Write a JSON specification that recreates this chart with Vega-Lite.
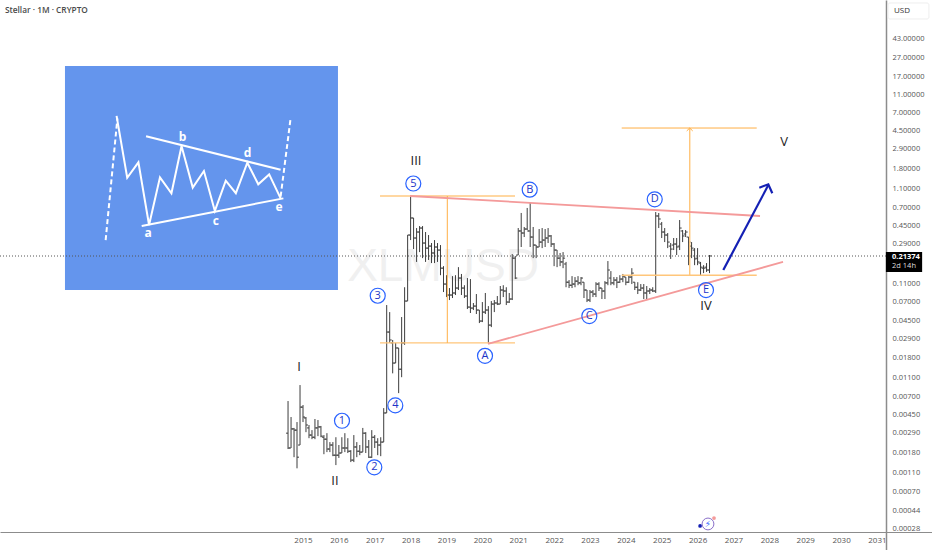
{
  "$schema": "https://vega.github.io/schema/vega-lite/v6.json",
  "width": 932,
  "height": 550,
  "padding": 0,
  "autosize": {"type": "none"},
  "background": "#ffffff",
  "config": {"view": {"stroke": null}, "text": {"font": "Open Sans"}},
  "datasets": {
    "panel": [{"x0": 0, "x1": 100, "y0": 0, "y1": 100}],
    "sketch": [
      {"line": "wave", "n": 1, "x": 18.9, "y": 77.7},
      {"line": "wave", "n": 2, "x": 22.8, "y": 50.1},
      {"line": "wave", "n": 3, "x": 26.9, "y": 57.0},
      {"line": "wave", "n": 4, "x": 30.8, "y": 29.0},
      {"line": "wave", "n": 5, "x": 34.8, "y": 50.3},
      {"line": "wave", "n": 6, "x": 39.0, "y": 43.2},
      {"line": "wave", "n": 7, "x": 42.7, "y": 64.3},
      {"line": "wave", "n": 8, "x": 46.8, "y": 45.7},
      {"line": "wave", "n": 9, "x": 50.9, "y": 53.1},
      {"line": "wave", "n": 10, "x": 54.9, "y": 35.3},
      {"line": "wave", "n": 11, "x": 58.9, "y": 48.8},
      {"line": "wave", "n": 12, "x": 62.6, "y": 43.2},
      {"line": "wave", "n": 13, "x": 66.8, "y": 56.8},
      {"line": "wave", "n": 14, "x": 70.8, "y": 47.2},
      {"line": "wave", "n": 15, "x": 74.8, "y": 51.6},
      {"line": "wave", "n": 16, "x": 79.0, "y": 40.9},
      {"line": "upper", "n": 1, "x": 29.7, "y": 68.6},
      {"line": "upper", "n": 2, "x": 79.0, "y": 53.7},
      {"line": "lower", "n": 1, "x": 28.1, "y": 28.6},
      {"line": "lower", "n": 2, "x": 80.0, "y": 40.9}
    ],
    "sketchDash": [
      {"line": "in", "n": 1, "x": 14.9, "y": 22.3},
      {"line": "in", "n": 2, "x": 19.2, "y": 76.6},
      {"line": "out", "n": 1, "x": 79.0, "y": 41.7},
      {"line": "out", "n": 2, "x": 82.7, "y": 77.1}
    ],
    "sketchText": [
      {"text": "a", "x": 30.5, "y": 25.3},
      {"text": "b", "x": 43.1, "y": 68.5},
      {"text": "c", "x": 55.3, "y": 31.0},
      {"text": "d", "x": 66.9, "y": 61.0},
      {"text": "e", "x": 78.4, "y": 37.2}
    ],
    "bars": [
      {"t":2014.583,"o":0.00287,"h":0.00627,"l":0.00195,"c":0.002},
      {"t":2014.667,"o":0.002,"h":0.00425,"l":0.002,"c":0.00318},
      {"t":2014.75,"o":0.00318,"h":0.00326,"l":0.0016,"c":0.00309},
      {"t":2014.833,"o":0.00309,"h":0.00376,"l":0.00122,"c":0.0016},
      {"t":2014.917,"o":0.00215,"h":0.00925,"l":0.00215,"c":0.00541},
      {"t":2015.0,"o":0.00541,"h":0.00569,"l":0.00376,"c":0.00425},
      {"t":2015.083,"o":0.00415,"h":0.00425,"l":0.00294,"c":0.0035},
      {"t":2015.167,"o":0.00326,"h":0.0035,"l":0.00254,"c":0.00274},
      {"t":2015.25,"o":0.00274,"h":0.00309,"l":0.00248,"c":0.0026},
      {"t":2015.333,"o":0.0026,"h":0.00405,"l":0.00248,"c":0.00326},
      {"t":2015.417,"o":0.00326,"h":0.00395,"l":0.00267,"c":0.00334},
      {"t":2015.5,"o":0.00334,"h":0.00342,"l":0.0026,"c":0.00267},
      {"t":2015.583,"o":0.0026,"h":0.00274,"l":0.00172,"c":0.00248},
      {"t":2015.667,"o":0.00248,"h":0.00287,"l":0.00181,"c":0.00195},
      {"t":2015.75,"o":0.00195,"h":0.00231,"l":0.00181,"c":0.00215},
      {"t":2015.833,"o":0.00215,"h":0.00231,"l":0.00164,"c":0.00168},
      {"t":2015.917,"o":0.00168,"h":0.0026,"l":0.00132,"c":0.00168},
      {"t":2016.0,"o":0.00168,"h":0.00215,"l":0.00157,"c":0.00177},
      {"t":2016.083,"o":0.00177,"h":0.0026,"l":0.00177,"c":0.002},
      {"t":2016.167,"o":0.002,"h":0.00287,"l":0.00181,"c":0.002},
      {"t":2016.25,"o":0.002,"h":0.00254,"l":0.00177,"c":0.00185},
      {"t":2016.333,"o":0.00185,"h":0.0019,"l":0.00142,"c":0.00149},
      {"t":2016.417,"o":0.00149,"h":0.00274,"l":0.00142,"c":0.00205},
      {"t":2016.5,"o":0.00205,"h":0.00231,"l":0.0016,"c":0.00185},
      {"t":2016.583,"o":0.00185,"h":0.00215,"l":0.00168,"c":0.00181},
      {"t":2016.667,"o":0.00181,"h":0.00326,"l":0.00181,"c":0.00287},
      {"t":2016.75,"o":0.00287,"h":0.00294,"l":0.00177,"c":0.00205},
      {"t":2016.833,"o":0.00205,"h":0.00243,"l":0.00157,"c":0.0016},
      {"t":2016.917,"o":0.0016,"h":0.00309,"l":0.00157,"c":0.0026},
      {"t":2017.0,"o":0.0026,"h":0.00274,"l":0.002,"c":0.00231},
      {"t":2017.083,"o":0.00231,"h":0.00254,"l":0.00168,"c":0.00215},
      {"t":2017.167,"o":0.00215,"h":0.0026,"l":0.00164,"c":0.00231},
      {"t":2017.25,"o":0.00231,"h":0.00528,"l":0.00231,"c":0.00469},
      {"t":2017.333,"o":0.00469,"h":0.0648,"l":0.00469,"c":0.0336},
      {"t":2017.417,"o":0.0336,"h":0.0546,"l":0.0258,"c":0.0277},
      {"t":2017.5,"o":0.0258,"h":0.0277,"l":0.0123,"c":0.0158},
      {"t":2017.583,"o":0.0158,"h":0.0258,"l":0.0158,"c":0.0228},
      {"t":2017.667,"o":0.0228,"h":0.0228,"l":0.0076,"c":0.0136},
      {"t":2017.75,"o":0.0136,"h":0.0484,"l":0.0112,"c":0.0258},
      {"t":2017.833,"o":0.0258,"h":0.1,"l":0.0246,"c":0.0714},
      {"t":2017.917,"o":0.0714,"h":0.356,"l":0.0714,"c":0.356},
      {"t":2018.0,"o":0.356,"h":0.92,"l":0.315,"c":0.539},
      {"t":2018.083,"o":0.539,"h":0.539,"l":0.253,"c":0.331},
      {"t":2018.167,"o":0.331,"h":0.422,"l":0.185,"c":0.383},
      {"t":2018.25,"o":0.383,"h":0.443,"l":0.235,"c":0.422},
      {"t":2018.333,"o":0.422,"h":0.443,"l":0.203,"c":0.293},
      {"t":2018.417,"o":0.293,"h":0.383,"l":0.185,"c":0.259},
      {"t":2018.5,"o":0.259,"h":0.356,"l":0.194,"c":0.272},
      {"t":2018.583,"o":0.272,"h":0.293,"l":0.18,"c":0.23},
      {"t":2018.667,"o":0.23,"h":0.315,"l":0.18,"c":0.266},
      {"t":2018.75,"o":0.266,"h":0.293,"l":0.185,"c":0.247},
      {"t":2018.833,"o":0.247,"h":0.279,"l":0.134,"c":0.159},
      {"t":2018.917,"o":0.159,"h":0.167,"l":0.0889,"c":0.108},
      {"t":2019.0,"o":0.108,"h":0.134,"l":0.0787,"c":0.0827},
      {"t":2019.083,"o":0.0827,"h":0.098,"l":0.0732,"c":0.0827},
      {"t":2019.167,"o":0.0827,"h":0.131,"l":0.0769,"c":0.0869},
      {"t":2019.25,"o":0.0869,"h":0.134,"l":0.0827,"c":0.098},
      {"t":2019.333,"o":0.098,"h":0.163,"l":0.0934,"c":0.125},
      {"t":2019.417,"o":0.125,"h":0.138,"l":0.0827,"c":0.098},
      {"t":2019.5,"o":0.098,"h":0.105,"l":0.0769,"c":0.0807},
      {"t":2019.583,"o":0.0807,"h":0.125,"l":0.0588,"c":0.0617},
      {"t":2019.667,"o":0.0617,"h":0.122,"l":0.0534,"c":0.0602},
      {"t":2019.75,"o":0.0602,"h":0.0681,"l":0.0574,"c":0.0632},
      {"t":2019.833,"o":0.0632,"h":0.0847,"l":0.0521,"c":0.0574},
      {"t":2019.917,"o":0.0574,"h":0.0574,"l":0.0418,"c":0.0439},
      {"t":2020.0,"o":0.0439,"h":0.0697,"l":0.0428,"c":0.0546},
      {"t":2020.083,"o":0.0546,"h":0.0869,"l":0.0521,"c":0.0574},
      {"t":2020.167,"o":0.0574,"h":0.0632,"l":0.0258,"c":0.0398},
      {"t":2020.25,"o":0.0398,"h":0.0714,"l":0.0379,"c":0.0664},
      {"t":2020.333,"o":0.0664,"h":0.0732,"l":0.0546,"c":0.0681},
      {"t":2020.417,"o":0.0681,"h":0.0807,"l":0.0648,"c":0.0664},
      {"t":2020.5,"o":0.0664,"h":0.103,"l":0.0664,"c":0.0934},
      {"t":2020.583,"o":0.0934,"h":0.105,"l":0.0787,"c":0.0912},
      {"t":2020.667,"o":0.0912,"h":0.1,"l":0.0648,"c":0.0697},
      {"t":2020.75,"o":0.0697,"h":0.0869,"l":0.0681,"c":0.075},
      {"t":2020.833,"o":0.075,"h":0.224,"l":0.0732,"c":0.203},
      {"t":2020.917,"o":0.203,"h":0.214,"l":0.122,"c":0.125},
      {"t":2021.0,"o":0.219,"h":0.422,"l":0.219,"c":0.393},
      {"t":2021.083,"o":0.393,"h":0.609,"l":0.266,"c":0.374},
      {"t":2021.167,"o":0.374,"h":0.433,"l":0.339,"c":0.412},
      {"t":2021.25,"o":0.412,"h":0.688,"l":0.402,"c":0.393},
      {"t":2021.333,"o":0.393,"h":0.777,"l":0.266,"c":0.339},
      {"t":2021.417,"o":0.339,"h":0.433,"l":0.203,"c":0.279},
      {"t":2021.5,"o":0.279,"h":0.279,"l":0.203,"c":0.266},
      {"t":2021.583,"o":0.266,"h":0.412,"l":0.266,"c":0.3},
      {"t":2021.667,"o":0.3,"h":0.422,"l":0.259,"c":0.315},
      {"t":2021.75,"o":0.315,"h":0.412,"l":0.266,"c":0.331},
      {"t":2021.833,"o":0.331,"h":0.422,"l":0.293,"c":0.348},
      {"t":2021.917,"o":0.348,"h":0.356,"l":0.266,"c":0.286},
      {"t":2022.0,"o":0.286,"h":0.293,"l":0.167,"c":0.247},
      {"t":2022.083,"o":0.247,"h":0.247,"l":0.163,"c":0.203},
      {"t":2022.167,"o":0.203,"h":0.23,"l":0.167,"c":0.185},
      {"t":2022.25,"o":0.185,"h":0.235,"l":0.159,"c":0.203},
      {"t":2022.333,"o":0.176,"h":0.185,"l":0.1,"c":0.113},
      {"t":2022.417,"o":0.113,"h":0.119,"l":0.098,"c":0.105},
      {"t":2022.5,"o":0.105,"h":0.131,"l":0.098,"c":0.108},
      {"t":2022.583,"o":0.108,"h":0.128,"l":0.1,"c":0.116},
      {"t":2022.667,"o":0.116,"h":0.131,"l":0.105,"c":0.111},
      {"t":2022.75,"o":0.111,"h":0.128,"l":0.105,"c":0.125},
      {"t":2022.833,"o":0.113,"h":0.113,"l":0.0769,"c":0.0934},
      {"t":2022.917,"o":0.0934,"h":0.0934,"l":0.0697,"c":0.0732},
      {"t":2023.0,"o":0.0732,"h":0.0934,"l":0.0697,"c":0.0889},
      {"t":2023.083,"o":0.0889,"h":0.0934,"l":0.0787,"c":0.0847},
      {"t":2023.167,"o":0.0847,"h":0.113,"l":0.0787,"c":0.108},
      {"t":2023.25,"o":0.108,"h":0.113,"l":0.0912,"c":0.098},
      {"t":2023.333,"o":0.098,"h":0.098,"l":0.075,"c":0.0912},
      {"t":2023.417,"o":0.0912,"h":0.116,"l":0.075,"c":0.111},
      {"t":2023.5,"o":0.111,"h":0.189,"l":0.105,"c":0.152},
      {"t":2023.583,"o":0.125,"h":0.148,"l":0.105,"c":0.111},
      {"t":2023.667,"o":0.111,"h":0.128,"l":0.105,"c":0.119},
      {"t":2023.75,"o":0.119,"h":0.128,"l":0.098,"c":0.113},
      {"t":2023.833,"o":0.113,"h":0.134,"l":0.111,"c":0.122},
      {"t":2023.917,"o":0.122,"h":0.138,"l":0.113,"c":0.131},
      {"t":2024.0,"o":0.128,"h":0.128,"l":0.105,"c":0.113},
      {"t":2024.083,"o":0.113,"h":0.134,"l":0.111,"c":0.128},
      {"t":2024.167,"o":0.128,"h":0.159,"l":0.108,"c":0.141},
      {"t":2024.25,"o":0.113,"h":0.113,"l":0.0934,"c":0.1},
      {"t":2024.333,"o":0.1,"h":0.113,"l":0.0847,"c":0.0934},
      {"t":2024.417,"o":0.0934,"h":0.108,"l":0.0912,"c":0.098},
      {"t":2024.5,"o":0.098,"h":0.108,"l":0.075,"c":0.0869},
      {"t":2024.583,"o":0.0869,"h":0.103,"l":0.075,"c":0.0912},
      {"t":2024.667,"o":0.0912,"h":0.098,"l":0.0847,"c":0.0934},
      {"t":2024.75,"o":0.0934,"h":0.1,"l":0.0889,"c":0.0912},
      {"t":2024.833,"o":0.0912,"h":0.623,"l":0.0869,"c":0.566},
      {"t":2024.917,"o":0.566,"h":0.609,"l":0.422,"c":0.526},
      {"t":2025.0,"o":0.465,"h":0.489,"l":0.331,"c":0.383},
      {"t":2025.083,"o":0.383,"h":0.422,"l":0.3,"c":0.356},
      {"t":2025.167,"o":0.356,"h":0.374,"l":0.259,"c":0.3},
      {"t":2025.25,"o":0.272,"h":0.293,"l":0.199,"c":0.253},
      {"t":2025.333,"o":0.279,"h":0.331,"l":0.247,"c":0.286},
      {"t":2025.417,"o":0.286,"h":0.331,"l":0.219,"c":0.266},
      {"t":2025.5,"o":0.272,"h":0.513,"l":0.247,"c":0.422},
      {"t":2025.583,"o":0.393,"h":0.402,"l":0.3,"c":0.348},
      {"t":2025.667,"o":0.365,"h":0.402,"l":0.339,"c":0.383},
      {"t":2025.75,"o":0.339,"h":0.339,"l":0.171,"c":0.3},
      {"t":2025.833,"o":0.272,"h":0.3,"l":0.203,"c":0.259},
      {"t":2025.917,"o":0.247,"h":0.259,"l":0.171,"c":0.199},
      {"t":2026.0,"o":0.203,"h":0.259,"l":0.171,"c":0.185},
      {"t":2026.083,"o":0.18,"h":0.185,"l":0.134,"c":0.163},
      {"t":2026.167,"o":0.159,"h":0.171,"l":0.141,"c":0.159},
      {"t":2026.25,"o":0.163,"h":0.18,"l":0.145,"c":0.152},
      {"t":2026.333,"o":0.152,"h":0.219,"l":0.141,"c":0.214}
    ],
    "lines": [
      {"id": "top1", "kind": "orange", "n": 1, "t": 2017.147, "price": 0.92},
      {"id": "top1", "kind": "orange", "n": 2, "t": 2020.91, "price": 0.92},
      {"id": "base1", "kind": "orangeWide", "n": 1, "t": 2017.147, "price": 0.0258},
      {"id": "base1", "kind": "orangeWide", "n": 2, "t": 2020.91, "price": 0.0258},
      {"id": "span1", "kind": "orange", "n": 1, "t": 2019.023, "price": 0.0258},
      {"id": "span1", "kind": "orange", "n": 2, "t": 2019.023, "price": 0.92},
      {"id": "top2", "kind": "orange", "n": 1, "t": 2023.885, "price": 4.81},
      {"id": "top2", "kind": "orange", "n": 2, "t": 2027.649, "price": 4.81},
      {"id": "base2", "kind": "orangeWide", "n": 1, "t": 2023.885, "price": 0.134},
      {"id": "base2", "kind": "orangeWide", "n": 2, "t": 2027.649, "price": 0.134},
      {"id": "span2", "kind": "orangeWide", "n": 1, "t": 2025.781, "price": 0.134},
      {"id": "span2", "kind": "orangeWide", "n": 2, "t": 2025.781, "price": 4.81},
      {"id": "head2", "kind": "orange", "n": 1, "t": 2025.697, "price": 4.48},
      {"id": "head2", "kind": "orange", "n": 2, "t": 2025.781, "price": 4.81},
      {"id": "head2", "kind": "orange", "n": 3, "t": 2025.864, "price": 4.48},
      {"id": "upper", "kind": "red", "n": 1, "t": 2017.983, "price": 0.92},
      {"id": "upper", "kind": "red", "n": 2, "t": 2027.741, "price": 0.566},
      {"id": "lower", "kind": "red", "n": 1, "t": 2020.157, "price": 0.0252},
      {"id": "lower", "kind": "red", "n": 2, "t": 2028.382, "price": 0.185},
      {"id": "arrow", "kind": "blue", "n": 1, "t": 2026.717, "price": 0.152},
      {"id": "arrow", "kind": "blue", "n": 2, "t": 2027.972, "price": 1.2},
      {"id": "arrowHead", "kind": "blue", "n": 1, "t": 2027.721, "price": 1.127},
      {"id": "arrowHead", "kind": "blue", "n": 2, "t": 2027.972, "price": 1.223},
      {"id": "arrowHead", "kind": "blue", "n": 3, "t": 2028.083, "price": 0.983}
    ],
    "waves": [
      {"text": "5", "t": 2018.075, "price": 1.247},
      {"text": "B", "t": 2021.32, "price": 1.073},
      {"text": "D", "t": 2024.805, "price": 0.849},
      {"text": "C", "t": 2022.982, "price": 0.0496},
      {"text": "E", "t": 2026.235, "price": 0.0934},
      {"text": "A", "t": 2020.074, "price": 0.01886},
      {"text": "3", "t": 2017.083, "price": 0.0813},
      {"text": "4", "t": 2017.573, "price": 0.00564},
      {"text": "1", "t": 2016.087, "price": 0.00388},
      {"text": "2", "t": 2016.988, "price": 0.00125}
    ],
    "degrees": [
      {"text": "III", "t": 2018.15, "price": 2.16},
      {"text": "I", "t": 2014.888, "price": 0.01436},
      {"text": "II", "t": 2015.892, "price": 0.000895},
      {"text": "IV", "t": 2026.235, "price": 0.0632},
      {"text": "V", "t": 2028.41, "price": 3.42}
    ]
  },
  "layer": [
    {
      "encoding": {
        "x": {"type": "quantitative", "scale": {"domain": [-23.8, 317.6], "nice": false, "zero": false}, "axis": null},
        "y": {"type": "quantitative", "scale": {"domain": [-116.07, 129.46], "nice": false, "zero": false}, "axis": null}
      },
      "layer": [
        {
          "data": {"name": "panel"},
          "mark": {"type": "rect", "color": "#6495ED"},
          "encoding": {
            "x": {"field": "x0", "type": "quantitative", "scale": {"domain": [-23.8, 317.6], "nice": false, "zero": false}, "axis": null},
            "x2": {"field": "x1"},
            "y": {"field": "y0", "type": "quantitative", "scale": {"domain": [-116.07, 129.46], "nice": false, "zero": false}, "axis": null},
            "y2": {"field": "y1"}
          }
        },
        {
          "data": {"name": "sketch"},
          "mark": {"type": "line", "color": "#ffffff", "strokeWidth": 2},
          "encoding": {
            "x": {"field": "x", "type": "quantitative", "scale": {"domain": [-23.8, 317.6], "nice": false, "zero": false}, "axis": null},
            "y": {"field": "y", "type": "quantitative", "scale": {"domain": [-116.07, 129.46], "nice": false, "zero": false}, "axis": null},
            "detail": {"field": "line"},
            "order": {"field": "n"}
          }
        },
        {
          "data": {"name": "sketchDash"},
          "mark": {"type": "line", "color": "#ffffff", "strokeWidth": 2, "strokeDash": [5, 3]},
          "encoding": {
            "x": {"field": "x", "type": "quantitative", "scale": {"domain": [-23.8, 317.6], "nice": false, "zero": false}, "axis": null},
            "y": {"field": "y", "type": "quantitative", "scale": {"domain": [-116.07, 129.46], "nice": false, "zero": false}, "axis": null},
            "detail": {"field": "line"},
            "order": {"field": "n"}
          }
        },
        {
          "data": {"name": "sketchText"},
          "mark": {"type": "text", "color": "#ffffff", "fontSize": 12, "fontWeight": "bold", "font": "Open Sans"},
          "encoding": {
            "x": {"field": "x", "type": "quantitative", "scale": {"domain": [-23.8, 317.6], "nice": false, "zero": false}, "axis": null},
            "y": {"field": "y", "type": "quantitative", "scale": {"domain": [-116.07, 129.46], "nice": false, "zero": false}, "axis": null},
            "text": {"field": "text"}
          }
        }
      ]
    },
    {
      "encoding": {
        "x": {
          "field": "t",
          "type": "quantitative",
          "scale": {"domain": [2006.553, 2032.535], "nice": false, "zero": false},
          "axis": {
            "values": [2015, 2016, 2017, 2018, 2019, 2020, 2021, 2022, 2023, 2024, 2025, 2026, 2027, 2028, 2029, 2030, 2031],
            "format": "d",
            "title": null,
            "grid": false,
            "ticks": false,
            "offset": -18,
            "labelPadding": 4,
            "labelFont": "Open Sans",
            "labelFontSize": 8,
            "labelColor": "#555555",
            "labelOverlap": false,
            "domainColor": "#8c8c8c",
            "domainWidth": 1
          }
        },
        "y": {
          "field": "price",
          "type": "quantitative",
          "scale": {"type": "log", "domain": [0.0001672, 108.4], "nice": false},
          "axis": {
            "orient": "right",
            "values": [43, 27, 17, 11, 7, 4.5, 2.9, 1.8, 1.1, 0.7, 0.45, 0.29, 0.11, 0.07, 0.045, 0.029, 0.018, 0.011, 0.007, 0.0045, 0.0029, 0.0018, 0.0011, 0.0007, 0.00044, 0.00028],
            "format": ".5f",
            "title": null,
            "grid": false,
            "ticks": false,
            "offset": -46,
            "labelPadding": 6,
            "labelFont": "Open Sans",
            "labelFontSize": 7.5,
            "labelColor": "#555555",
            "labelOverlap": false,
            "domainColor": "#8c8c8c",
            "domainWidth": 1.5
          }
        }
      },
      "layer": [
        {
          "data": {"values": [{"text": "XLMUSD", "t": 2018.903, "price": 0.163}]},
          "mark": {"type": "text", "color": "#f0f0f0", "fontSize": 46, "font": "Liberation Sans", "align": "center", "baseline": "middle"},
          "encoding": {"text": {"field": "text"}}
        },
        {
          "data": {"values": [{"t": 2006.553, "t2": 2031.25, "price": 0.21374}]},
          "mark": {"type": "rule", "color": "#555555", "strokeWidth": 1, "strokeDash": [1, 2]},
          "encoding": {"x2": {"field": "t2"}}
        },
        {
          "data": {"name": "bars"},
          "mark": {"type": "rule", "color": "#3d3d3d", "strokeWidth": 1},
          "encoding": {
            "y": {"field": "h", "type": "quantitative", "scale": {"type": "log", "domain": [0.0001672, 108.4], "nice": false}},
            "y2": {"field": "l"}
          }
        },
        {
          "data": {"name": "bars"},
          "mark": {"type": "tick", "orient": "horizontal", "color": "#3d3d3d", "size": 2, "thickness": 1, "xOffset": -1, "opacity": 1},
          "encoding": {
            "y": {"field": "o", "type": "quantitative", "scale": {"type": "log", "domain": [0.0001672, 108.4], "nice": false}}
          }
        },
        {
          "data": {"name": "bars"},
          "mark": {"type": "tick", "orient": "horizontal", "color": "#3d3d3d", "size": 2, "thickness": 1, "xOffset": 1, "opacity": 1},
          "encoding": {
            "y": {"field": "c", "type": "quantitative", "scale": {"type": "log", "domain": [0.0001672, 108.4], "nice": false}}
          }
        },
        {
          "data": {"name": "lines"},
          "mark": {"type": "line"},
          "encoding": {
            "detail": {"field": "id"},
            "order": {"field": "n"},
            "color": {"field": "kind", "type": "nominal", "legend": null, "scale": {"domain": ["orange", "orangeWide", "red", "blue"], "range": ["#FFAF45", "#FFC67A", "#F49A9A", "#1420B4"]}},
            "strokeWidth": {"field": "kind", "type": "nominal", "legend": null, "scale": {"domain": ["orange", "orangeWide", "red", "blue"], "range": [1, 2.2, 1, 1.6]}}
          }
        },
        {
          "data": {"name": "waves"},
          "mark": {"type": "point", "shape": "circle", "size": 225, "filled": false, "stroke": "#2962FF", "strokeWidth": 1.2, "opacity": 1},
          "encoding": {}
        },
        {
          "data": {"name": "waves"},
          "mark": {"type": "text", "color": "#1c34c8", "fontSize": 11, "font": "Open Sans"},
          "encoding": {"text": {"field": "text"}}
        },
        {
          "data": {"name": "degrees"},
          "mark": {"type": "text", "color": "#222222", "fontSize": 13, "font": "Open Sans"},
          "encoding": {"text": {"field": "text"}}
        },
        {
          "data": {"values": [{"text": "Stellar · 1M · CRYPTO", "t": 2006.69, "price": 82}]},
          "mark": {"type": "text", "color": "#4a4a4a", "fontSize": 8.3, "fontWeight": 600, "font": "Open Sans", "align": "left"},
          "encoding": {"text": {"field": "text"}}
        },
        {
          "data": {"values": [{"t": 2031.31, "t2": 2032.45, "price": 100.8, "price2": 68.3}]},
          "mark": {"type": "rect", "fill": "#ffffff", "stroke": "#eeeeee", "cornerRadius": 2},
          "encoding": {"x2": {"field": "t2"}, "y2": {"field": "price2"}}
        },
        {
          "data": {"values": [{"text": "USD", "t": 2031.476, "price": 82.9}]},
          "mark": {"type": "text", "color": "#333333", "fontSize": 8, "font": "Open Sans", "align": "left"},
          "encoding": {"text": {"field": "text"}}
        },
        {
          "data": {"values": [{"t": 2031.25, "t2": 2032.26, "price": 0.235, "price2": 0.145}]},
          "mark": {"type": "rect", "fill": "#000000"},
          "encoding": {"x2": {"field": "t2"}, "y2": {"field": "price2"}}
        },
        {
          "data": {"values": [{"text": "0.21374", "t": 2031.42, "price": 0.208}]},
          "mark": {"type": "text", "color": "#ffffff", "fontSize": 7.5, "fontWeight": "bold", "font": "Open Sans", "align": "left"},
          "encoding": {"text": {"field": "text"}}
        },
        {
          "data": {"values": [{"text": "2d 14h", "t": 2031.42, "price": 0.169}]},
          "mark": {"type": "text", "color": "#dddddd", "fontSize": 7.5, "font": "Open Sans", "align": "left"},
          "encoding": {"text": {"field": "text"}}
        },
        {
          "data": {"values": [{"t": 2026.29, "price": 0.000315}]},
          "mark": {"type": "point", "shape": "circle", "size": 140, "filled": false, "stroke": "#8a6fc9", "strokeWidth": 1, "opacity": 1},
          "encoding": {}
        },
        {
          "data": {"values": [{"text": "⚡", "t": 2026.29, "price": 0.000315}]},
          "mark": {"type": "text", "color": "#2962FF", "fontSize": 9, "font": "DejaVu Sans"},
          "encoding": {"text": {"field": "text"}}
        },
        {
          "data": {"values": [{"t": 2026.458, "price": 0.000364, "dot": "red"}, {"t": 2026.07, "price": 0.0003, "dot": "blue"}]},
          "mark": {"type": "point", "shape": "circle", "size": 14, "filled": true, "opacity": 1},
          "encoding": {
            "color": {"field": "dot", "type": "nominal", "legend": null, "scale": {"domain": ["red", "blue"], "range": ["#f06a7a", "#2962FF"]}}
          }
        }
      ]
    }
  ],
  "resolve": {"scale": {"x": "independent", "y": "independent"}}
}
